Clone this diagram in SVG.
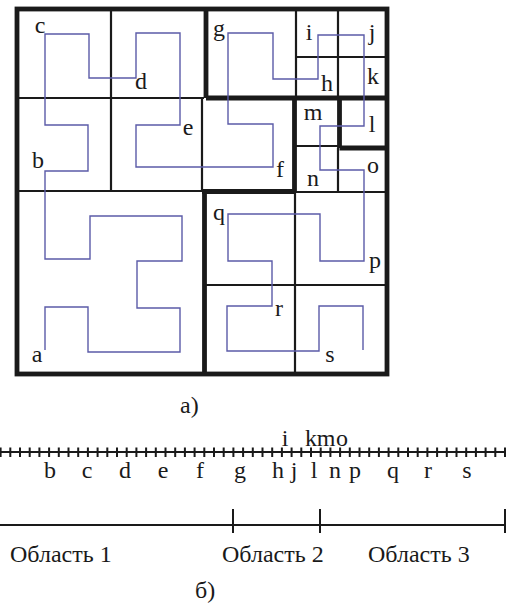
<svg xmlns="http://www.w3.org/2000/svg" width="516" height="610" viewBox="0 0 516 610">
<style>
.thin{fill:none;stroke:#1a1a1a;stroke-width:2.2}
.thick{fill:none;stroke:#1a1a1a;stroke-width:4.8}
.curve{fill:none;stroke:#5b5ba8;stroke-width:1.4}
.lbl{font-family:"Liberation Serif","Times New Roman",serif;font-size:24px;fill:#1a1a1a;text-anchor:middle}
.cap{font-family:"Liberation Serif","Times New Roman",serif;font-size:24px;fill:#1a1a1a}
.axis{fill:none;stroke:#1a1a1a;stroke-width:2}
</style>
<rect width="516" height="610" fill="#ffffff"/>
<g id="grid">
<path class="thin" d="M111 9V191 M17 98H204 M202 98V191 M17 191H202 M296 9V98 M296 57H386 M338 9V98 M294 146H339 M338 148V191 M294 192H386 M295 192V374 M206 285H386"/>
<path class="thick" d="M206 9V98 M206 98H386 M294.5 98V192 M339.5 98V148 M339.5 148H386 M202 191.5H294.5 M204.5 191V374"/>
<rect class="thick" x="17" y="9" width="370" height="365"/>
</g>
<g id="curve">
<polyline class="curve" points="45,350 45,307 88,307 88,352 180,352 180,308 137,308 137,261 182,261 182,216 90,216 90,259 45,259 45,171 88,171 88,125 45,125 45,34 89,34 89,78 136,78 136,33 180,33 180,125 136,125 136,167 273,167 273,124 228,124 228,33 273,33 273,79 318,79 318,35 364,35 364,126 320,126 320,170 364,170 364,261 320,261 320,214 228,214 228,261 272,261 272,306 227,306 227,351 319,351 319,306 363,306 363,350"/>
</g>
<g id="cell-labels" class="lbl">
<text x="40" y="33">c</text>
<text x="141" y="89">d</text>
<text x="188" y="135">e</text>
<text x="38" y="168">b</text>
<text x="37" y="362">a</text>
<text x="219" y="36">g</text>
<text x="309" y="40">i</text>
<text x="372" y="40">j</text>
<text x="327" y="91">h</text>
<text x="373" y="84">k</text>
<text x="313" y="120">m</text>
<text x="372" y="132">l</text>
<text x="280" y="177">f</text>
<text x="373" y="173">o</text>
<text x="313" y="186">n</text>
<text x="219" y="220">q</text>
<text x="375" y="268">p</text>
<text x="279" y="316">r</text>
<text x="330" y="362">s</text>
</g>
<text id="caption-a" class="cap" x="180" y="413">а)</text>
<g id="ticks">
<path class="axis" d="M0 452H505"/>
<path class="axis" stroke-width="1.8" d="M505 447.5V457 M495.3 447.5V457 M485.6 447.5V457 M475.9 447.5V457 M466.2 447.5V457 M456.5 447.5V457 M446.8 447.5V457 M437.1 447.5V457 M427.4 447.5V457 M417.7 447.5V457 M408 447.5V457 M398.3 447.5V457 M388.6 447.5V457 M378.9 447.5V457 M369.2 447.5V457 M359.5 447.5V457 M349.8 447.5V457 M340.1 447.5V457 M330.4 447.5V457 M320.7 447.5V457 M311 447.5V457 M301.3 447.5V457 M291.6 447.5V457 M281.9 447.5V457 M272.2 447.5V457 M262.5 447.5V457 M252.8 447.5V457 M243.1 447.5V457 M233.4 447.5V457 M223.7 447.5V457 M214 447.5V457 M204.3 447.5V457 M194.6 447.5V457 M184.9 447.5V457 M175.2 447.5V457 M165.5 447.5V457 M155.8 447.5V457 M146.1 447.5V457 M136.4 447.5V457 M126.7 447.5V457 M117 447.5V457 M107.3 447.5V457 M97.6 447.5V457 M87.9 447.5V457 M78.2 447.5V457 M68.5 447.5V457 M58.8 447.5V457 M49.1 447.5V457 M39.4 447.5V457 M29.7 447.5V457 M20 447.5V457 M10.3 447.5V457 M0.6 447.5V457"/>
</g>
<g id="tick-labels" class="lbl">
<text x="50" y="478">b</text>
<text x="87" y="478">c</text>
<text x="125" y="478">d</text>
<text x="163" y="478">e</text>
<text x="200" y="478">f</text>
<text x="240" y="478">g</text>
<text x="278" y="478">h</text>
<text x="294" y="478">j</text>
<text x="314" y="478">l</text>
<text x="335" y="478">n</text>
<text x="355" y="478">p</text>
<text x="393" y="478">q</text>
<text x="428" y="478">r</text>
<text x="467" y="478">s</text>
<text x="285" y="446">i</text>
<text x="311" y="446">k</text>
<text x="326" y="446">m</text>
<text x="342" y="446">o</text>
</g>
<g id="regions">
<path class="axis" d="M0 525H505 M233 509V533 M320 509V533 M505 509V533"/>
<text class="cap" x="10" y="562">Область 1</text>
<text class="cap" x="222" y="562">Область 2</text>
<text class="cap" x="368" y="562">Область 3</text>
</g>
<text id="caption-b" class="cap" x="195" y="598">б)</text>
</svg>
